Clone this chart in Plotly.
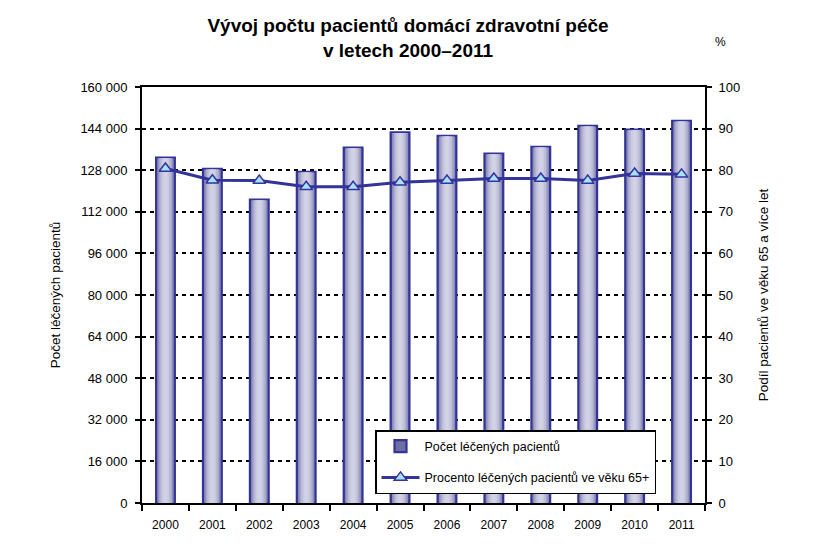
import plotly.graph_objects as go

years = ["2000", "2001", "2002", "2003", "2004", "2005", "2006", "2007", "2008", "2009", "2010", "2011"]
patients = [132800, 128500, 116700, 127400, 136700, 142600, 141200, 134400, 137000, 145100, 143600, 147000]
share65 = [80.4, 77.6, 77.5, 76.0, 76.0, 77.1, 77.5, 78.0, 78.0, 77.5, 79.2, 79.0]
left_ticks = [0, 16000, 32000, 48000, 64000, 80000, 96000, 112000, 128000, 144000, 160000]
left_labels = ["0", "16 000", "32 000", "48 000", "64 000", "80 000", "96 000", "112 000", "128 000", "144 000", "160 000"]
right_ticks = [0, 10, 20, 30, 40, 50, 60, 70, 80, 90, 100]

title_text = "<b>Vývoj počtu pacientů domácí zdravotní péče<br>v letech 2000–2011</b>"
bar_name = "Počet léčených pacientů"
line_name = "Procento léčených pacientů ve věku 65+"

FONT = "Liberation Sans, Arial, sans-serif"
DARK = "#333399"

# page body adds an 8px offset; figure is sized to fit the window
W, H = 823, 552
OFF = 8
PL, PT, PR, PB = 142, 87, 705, 503  # plot area in screenshot pixels
PW, PH = PR - PL, PB - PT

fig = go.Figure()

fig.add_trace(go.Bar(
    x=years, y=patients, name=bar_name, width=0.40,
    marker=dict(color="#6e6ea2", line=dict(color=DARK, width=2.2)),
    legendgroup="bars", hoverinfo="skip",
))
layers = [(0.34, "#8e8eba"), (0.28, "#a8a8cb"), (0.22, "#bcbcd7"), (0.15, "#c9c9e0"), (0.08, "#d2d2e6")]
for w, c in layers:
    fig.add_trace(go.Bar(
        x=years, y=[v - 250 for v in patients], width=w,
        marker=dict(color=c, line=dict(width=0)),
        showlegend=False, legendgroup="bars", hoverinfo="skip",
    ))

fig.add_trace(go.Scatter(
    x=years, y=share65, name=line_name, yaxis="y2", mode="lines+markers",
    line=dict(color=DARK, width=3),
    marker=dict(symbol="triangle-up", size=11, color="#a8e0ff", line=dict(color=DARK, width=1.5)),
    legendgroup="line",
))

fig.update_layout(
    width=W, height=H,
    paper_bgcolor="white", plot_bgcolor="white",
    margin=dict(l=PL - OFF, r=W - (PR - OFF), t=PT - OFF, b=H - (PB - OFF), autoexpand=False),
    barmode="overlay",
    font=dict(family=FONT, size=12, color="black"),
    title=dict(text=title_text, x=(408 - OFF) / W, xanchor="center", y=1 - 24 / H, yanchor="middle",
               font=dict(family=FONT, size=19, color="black")),
    showlegend=True,
    legend=dict(
        x=(375 - PL) / PW, y=(PB - 430) / PH, xanchor="left", yanchor="top",
        bgcolor="white", bordercolor="black", borderwidth=1.5,
        font=dict(family=FONT, size=12.5, color="black"),
        itemwidth=38, tracegroupgap=12, traceorder="grouped",
    ),
    xaxis=dict(
        type="category", showline=True, linecolor="black", linewidth=2, mirror=True,
        ticks="outside", tickson="boundaries", ticklen=6, tickwidth=2, tickcolor="black",
        showgrid=False, tickfont=dict(size=12), range=[-0.5, 11.5], ticklabelstandoff=10,
    ),
    yaxis=dict(
        range=[0, 160000], tickvals=left_ticks, ticktext=left_labels,
        showline=True, linecolor="black", linewidth=2,
        ticks="outside", ticklen=5, tickwidth=2, tickcolor="black",
        showgrid=True, gridcolor="black", gridwidth=1.5, griddash="4px,4px",
        zeroline=False, tickfont=dict(size=13), ticklabelstandoff=5,
        title=dict(text="Počet léčených pacientů", font=dict(size=13.5), standoff=17),
    ),
    yaxis2=dict(
        range=[0, 100], tickvals=right_ticks, overlaying="y", side="right",
        showline=True, linecolor="black", linewidth=2,
        ticks="outside", ticklen=5, tickwidth=2, tickcolor="black",
        showgrid=False, zeroline=False, tickfont=dict(size=13), ticklabelstandoff=4,
        title=dict(text="Podíl pacientů ve věku 65 a více let", font=dict(size=13.5), standoff=19),
    ),
    annotations=[dict(text="%", x=(720 - PL) / PW, y=(PB - 42) / PH, xref="paper", yref="paper",
                      xanchor="center", yanchor="middle", showarrow=False,
                      font=dict(size=12, color="black"))],
)

fig.write_html("out.html")
